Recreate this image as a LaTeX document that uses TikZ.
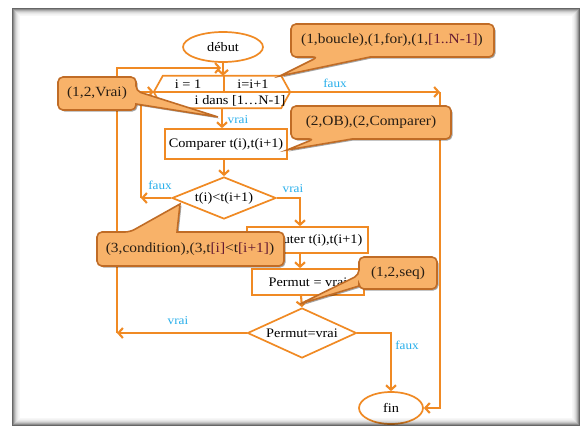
\documentclass[tikz,border=0pt]{standalone}
\usepackage{fontspec}
\setmainfont{Liberation Serif}[FakeStretch=1.1]
\usetikzlibrary{arrows.meta,shapes.geometric,shadows,calc}
\definecolor{flowor}{RGB}{240,138,36}
\definecolor{callfill}{RGB}{248,178,105}
\definecolor{calldraw}{RGB}{192,108,38}
\definecolor{lblblue}{RGB}{40,175,235}
\definecolor{brk}{RGB}{100,25,50}
\definecolor{calltxt}{RGB}{40,30,20}
\tikzset{
  flow/.style={draw=flowor, line width=2.1pt, -{Straight Barb[length=4.5pt,width=10pt]}},
  shapeline/.style={draw=flowor, line width=1.7pt},
  boxnode/.style={draw=flowor, line width=1.7pt, fill=white, inner sep=0pt, font=\fontsize{13}{15}\selectfont},
  txt/.style={inner sep=0pt, font=\fontsize{13}{15}\selectfont},
  lbl/.style={inner sep=0pt, text=lblblue, font=\fontsize{12}{14}\selectfont},
  callshape/.style={fill=callfill, draw=calldraw, line width=1.6pt,
    drop shadow={shadow xshift=1.5pt, shadow yshift=-1.5pt, opacity=0.35, fill=black}},
  calltext/.style={inner sep=0pt, text=calltxt, font=\fontsize{14}{16}\selectfont}
}
\begin{document}
\begin{tikzpicture}[x=1pt,y=-1pt]
\useasboundingbox (0,0) rectangle (580,426);
\fill[white] (0,0) rectangle (580,426);

% ---------- flowchart nodes ----------
\node[boxnode, ellipse, minimum width=80pt, minimum height=30pt] (debut) at (223,47) {début};
\node[inner sep=0pt, minimum width=136pt, minimum height=32pt] (hex) at (222,92) {};
\draw[shapeline, fill=white] (hex.west) -- ($(hex.north west)+(9,0)$) -- ($(hex.north east)+(-9,0)$)
   -- (hex.east) -- ($(hex.south east)+(-9,0)$) -- ($(hex.south west)+(9,0)$) -- cycle;
\draw[shapeline] (hex.west) -- (hex.east);
\draw[shapeline] ($(hex.north)+(2,0)$) -- ($(hex.center)+(2,0)$);
\node[txt] (hinit) at (188,84) {i = 1};
\node[txt] (hinc) at (253,84) {i=i+1};
\node[txt] (hcond) at (240,101) {i dans [1…N-1]};

\node[boxnode, rectangle, minimum width=122pt, minimum height=30pt] (cmp) at (226,144) {Comparer t(i),t(i+1)};
\node[boxnode, diamond, aspect=2.5, minimum width=104pt, minimum height=42pt] (d1) at (224,198) {t(i)<t(i+1)};
\node[boxnode, rectangle, minimum width=121pt, minimum height=26pt] (perm) at (307.5,240) {Permuter t(i),t(i+1)};
\node[boxnode, rectangle, minimum width=112pt, minimum height=26pt] (pm) at (308,282) {Permut = vrai};
\node[boxnode, diamond, aspect=2.2, minimum width=109pt, minimum height=50pt] (d2) at (302,333) {Permut=vrai};
\node[boxnode, ellipse, minimum width=64pt, minimum height=32pt] (fin) at (391,408) {fin};

% ---------- connector corners ----------
\coordinate (lpA) at (117,333);
\coordinate (lpC) at (221,68);
\coordinate (ilA) at (141,198);
\coordinate (rt) at (440,92);
\coordinate (pTop) at ($(perm.north)+(-7.5,0)$);

% ---------- connectors ----------
\draw[flow] (debut.south) -- (debut.south |- hex.north);
\draw[flow] (d2.west) -- (lpA);
\draw[flow] (lpA) |- (lpC);
\draw[flow] (d1.west) -- (ilA);
\draw[flow] (ilA) |- (hex.west);
\draw[flow] (hex.south) -- (hex.south |- cmp.north);
\draw[flow] (d1.north |- cmp.south) -- (d1.north);
\draw[flow] (d1.east) -| (pTop);
\draw[flow] ($(perm.south)+(-7.5,0)$) -- ($(pm.north)+(-8,0)$);
\draw[flow] ($(pm.south)+(-7,0)$) -- (d2.north);
\draw[flow] (d2.east) -| (fin.north);
\draw[flow] (hex.east) -- (rt);
\draw[flow] (rt) |- (fin.east);

% ---------- labels ----------
\node[lbl] (l1) at (238,120) {vrai};
\node[lbl] (l2) at (335,83) {faux};
\node[lbl] (l3) at (160,185) {faux};
\node[lbl] (l4) at (293,189) {vrai};
\node[lbl] (l5) at (178,321) {vrai};
\node[lbl] (l6) at (407,345) {faux};

% ---------- callouts ----------
\path[callshape] (318,57) -- (280,76) -- (370,57) [rounded corners=5pt] -- (494,57) -- (494,24) -- (291,24) -- (291,57) -- cycle;
\node[calltext] (c1) at (392,40) {(1,boucle),(1,for),(1,\textcolor{brk}{[1..N-1]})};

\path[callshape] (136,91) -- (218,117) -- (136,104) [rounded corners=5pt] -- (136,110) -- (58,110) -- (58,77) -- (136,77) -- cycle;
\node[calltext] (c2) at (97,93) {(1,2,Vrai)};

\path[callshape] (314,139) -- (287,150) -- (352,139) [rounded corners=5pt] -- (451,139) -- (451,106) -- (291,106) -- (291,139) -- cycle;
\node[calltext] (c3) at (371,122) {(2,OB),(2,Comparer)};

\path[callshape] (130,232) -- (180,204) -- (177,232) [rounded corners=5pt] -- (284,232) -- (284,266) -- (97,266) -- (97,232) -- cycle;
\node[calltext] (c4) at (190,249) {(3,condition),(3,t\textcolor{brk}{[i]}<t\textcolor{brk}{[i+1]})};

\path[callshape] (359,275) -- (300,304) -- (359,286) [rounded corners=5pt] -- (359,289) -- (437,289) -- (437,257) -- (359,257) -- cycle;
\node[calltext] (c5) at (398,273) {(1,2,seq)};

% ---------- frame ----------
\foreach \i/\o in {0/0.6,1/0.45,2/0.32,3/0.22,4/0.14,5/0.09,6/0.05,7/0.03}{
  \draw[black, opacity=\o, line width=1pt] (12.5+\i,8.5+\i) rectangle (579.5-\i,425.5-\i);
}
\end{tikzpicture}
\end{document}
